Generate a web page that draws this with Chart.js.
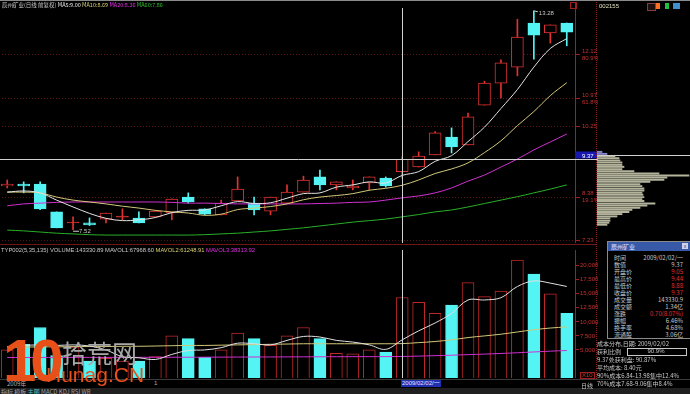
<!DOCTYPE html>
<html><head><meta charset="utf-8">
<script src="https://cdn.jsdelivr.net/npm/chart.js@4.4.1/dist/chart.umd.min.js"></script>
<style>
html,body{margin:0;padding:0;background:#000;width:690px;height:394px;overflow:hidden;position:relative;font-family:"Liberation Sans","Noto Sans CJK SC",sans-serif;}
.box{position:absolute;}
.t{position:absolute;white-space:nowrap;font-size:6px;line-height:7px;color:#c8c8c8;z-index:5;}
.cj{font-family:"Noto Sans CJK SC","Liberation Sans",sans-serif;}
#info .r{position:absolute;left:6px;right:7px;height:7px;font-size:6px;line-height:7px;}
#info .r span:last-child{position:absolute;right:0;}
</style></head><body>
<div class="box" style="left:0;top:0;width:690px;height:1px;background:#8a8a8a;"></div>
<div class="box" id="pwrap" style="left:-1px;top:3px;width:599px;height:240px;"><canvas id="price"></canvas></div>
<div class="box" id="vwrap" style="left:-1px;top:250px;width:599px;height:128px;"><canvas id="vol"></canvas></div>
<div class="box" id="cwrap" style="left:597px;top:3px;width:93px;height:240px;"><canvas id="chip"></canvas></div>

<!-- frame lines -->
<div class="box" style="left:0;top:244px;width:597px;height:1px;background:#701818;"></div>
<div class="box" style="left:596px;top:2px;width:0;height:377px;border-left:1px dotted #902020;"></div>
<div class="box" style="left:0;top:379px;width:690px;height:1px;background:#3a3a3a;"></div>
<div class="box" style="left:570px;top:2px;width:5px;height:5px;border:1px solid #a02020;"></div>

<!-- titles -->
<div class="t cj" style="left:2px;top:2px;font-size:5.5px;">辰州矿业(日线 前复权) <span style="color:#e8e8e8">MA5:9.00</span> <span style="color:#d8d070">MA10:8.69</span> <span style="color:#e030e0">MA20:8.36</span> <span style="color:#30c030">MA60:7.86</span></div>
<div class="t" style="left:1px;top:247px;font-size:5.8px;">TYP002(5,35,135) VOLUME:143330.89 MAVOL1:67968.60 <span style="color:#d8d070">MAVOL2:61248.91</span> <span style="color:#e030e0">MAVOL3:38313.92</span></div>
<div class="t" style="left:599px;top:3px;color:#e0e0c0;">002155</div>
<div class="box" style="left:647px;top:3px;width:7px;height:6px;border:1px solid #804040;background:#201010;"></div>
<div class="box" style="left:656px;top:3px;width:4px;height:6px;background:#ff7020;"></div>
<div class="box" style="left:665px;top:3px;width:4px;height:6px;background:#20c040;"></div>
<div class="box" style="left:673px;top:3px;width:7px;height:6px;background:#4090d0;"></div>

<!-- info popup -->
<div id="info" class="box cj" style="left:607px;top:241px;width:82px;height:96px;border:1px solid #8a8a8a;background:#000;z-index:6;color:#c8c8c8;">
  <div style="position:absolute;left:0;top:0;right:0;height:9px;background:#3858a8;color:#e8e8ff;font-size:6px;line-height:9px;padding-left:3px;">辰州矿业<span style="position:absolute;right:2px;top:1px;width:6px;height:6px;background:#d0d0e8;color:#304080;font-size:5px;line-height:6px;text-align:center;">x</span></div>
  <div class="r" style="top:12px;"><span>时间</span><span>2009/02/02/一</span></div>
  <div class="r" style="top:19px;"><span>数值</span><span>9.37</span></div>
  <div class="r" style="top:26px;"><span>开盘价</span><span style="color:#e03030">9.05</span></div>
  <div class="r" style="top:33px;"><span>最高价</span><span style="color:#e03030">9.44</span></div>
  <div class="r" style="top:40px;"><span>最低价</span><span style="color:#e03030">8.88</span></div>
  <div class="r" style="top:47px;"><span>收盘价</span><span style="color:#e03030">9.37</span></div>
  <div class="r" style="top:54px;"><span>成交量</span><span>143330.9</span></div>
  <div class="r" style="top:61px;"><span>成交额</span><span>1.34亿</span></div>
  <div class="r" style="top:68px;"><span>涨跌</span><span style="color:#e03030">0.70(8.07%)</span></div>
  <div class="r" style="top:75px;"><span>振幅</span><span>6.46%</span></div>
  <div class="r" style="top:82px;"><span>换手率</span><span>4.68%</span></div>
  <div class="r" style="top:89px;"><span>流通股</span><span>3.06亿</span></div>
</div>

<!-- cost distribution text -->
<div class="t cj" style="left:597px;top:340px;">成本分布,日期: 2009/02/02</div>
<div class="t cj" style="left:597px;top:348px;">获利比例</div>
<div class="box" style="left:627px;top:348px;width:58px;height:6px;border:1px solid #c8c8c8;"></div>
<div class="t" style="left:627px;top:348px;width:58px;text-align:center;">90.9%</div>
<div class="t cj" style="left:597px;top:356px;">9.37处获利盘: 90.87%</div>
<div class="t cj" style="left:597px;top:364px;">平均成本: 8.40元</div>
<div class="t cj" style="left:597px;top:372px;">90%成本6.84-13.98集中12.4%</div>
<div class="t cj" style="left:597px;top:380px;">70%成本7.68-9.06集中8.4%</div>
<div class="t" style="left:580px;top:372px;color:#d03030;border:1px solid #a02020;line-height:5px;padding:0 1px;">X10</div>
<div class="t cj" style="left:581px;top:382px;">日线</div>

<!-- date row -->
<div class="t cj" style="left:7px;top:380px;color:#b0b0b0;">2009年</div>
<div class="t" style="left:154px;top:380px;color:#b0b0b0;">1</div>
<div class="t" style="left:401px;top:380px;background:#2030b0;color:#e0e0ff;padding:0 1px;">2009/02/02/一</div>
<div class="box" style="left:0;top:388px;width:690px;height:6px;background:#202020;"></div>
<div class="t cj" style="left:1px;top:388px;color:#a0a0a0;">指标 模板 <span style="color:#40c0c0">主图</span> MACD KDJ RSI WR</div>

<!-- watermark -->
<div class="t" style="left:3px;top:330px;font-size:60px;line-height:62px;font-weight:bold;color:#e8501a;letter-spacing:-6px;font-family:'Liberation Sans';z-index:7;">10</div>
<div class="t cj" style="left:62px;top:338px;font-size:25px;line-height:28px;color:#a8a8a8;z-index:7;">拾荒网</div>
<div class="t" style="left:46px;top:363px;font-size:21px;line-height:24px;color:#e8501a;z-index:7;font-family:'Liberation Sans';">Hunag.CN</div>

<script>
const dates = ['2008/12/19','2008/12/22','2008/12/23','2008/12/24','2008/12/25','2008/12/26','2008/12/29','2008/12/30','2008/12/31','2009/01/05','2009/01/06','2009/01/07','2009/01/08','2009/01/09','2009/01/12','2009/01/13','2009/01/14','2009/01/15','2009/01/16','2009/01/19','2009/01/20','2009/01/21','2009/01/22','2009/01/23','2009/02/02','2009/02/03','2009/02/04','2009/02/05','2009/02/06','2009/02/09','2009/02/10','2009/02/11','2009/02/12','2009/02/13','2009/02/16'];
const open  = [8.67,8.72,8.72,7.99,7.70,7.70,7.80,7.85,7.83,7.86,7.96,8.38,8.07,7.91,8.28,8.22,8.01,8.22,8.51,8.91,8.70,8.62,8.75,8.88,9.05,9.17,9.49,9.96,9.75,10.80,11.38,11.80,12.96,12.70,12.96];
const high  = [8.83,8.78,8.78,7.99,7.86,7.83,7.96,8.07,7.99,8.03,8.33,8.49,8.07,8.30,8.91,8.38,8.38,8.70,8.93,9.09,8.78,8.83,8.91,8.91,9.44,9.57,10.10,10.20,10.59,11.43,11.99,13.06,13.28,12.91,12.96];
const low   = [8.62,8.49,8.05,7.57,7.52,7.63,7.70,7.78,7.70,7.85,7.78,8.22,7.91,7.91,8.28,7.91,7.91,8.22,8.51,8.57,8.57,8.57,8.57,8.64,8.88,9.17,9.49,9.54,9.75,10.80,10.99,11.57,12.01,12.43,12.36];
const close = [8.72,8.67,8.07,7.57,7.72,7.65,7.96,7.88,7.70,8.01,8.33,8.25,7.93,8.22,8.59,8.04,8.38,8.51,8.83,8.70,8.78,8.67,8.91,8.67,9.37,9.46,10.07,9.70,10.49,11.38,11.91,12.59,12.64,12.91,12.72];
const ma5  = [8.51,8.54,8.49,8.30,8.12,7.95,7.82,7.76,7.78,7.84,7.97,8.03,8.04,8.15,8.26,8.21,8.23,8.35,8.47,8.49,8.64,8.70,8.78,8.75,8.95,9.05,9.32,9.47,9.84,10.22,10.71,11.21,11.80,12.29,12.55];
const ma10 = [8.51,8.51,8.49,8.38,8.30,8.25,8.20,8.14,8.09,8.03,7.99,7.96,7.90,7.93,8.05,8.09,8.13,8.20,8.31,8.38,8.42,8.47,8.56,8.61,8.69,8.83,9.00,9.12,9.28,9.55,9.86,10.26,10.63,11.05,11.39];
const ma20 = [8.15,8.20,8.22,8.24,8.25,8.25,8.25,8.25,8.25,8.25,8.24,8.22,8.22,8.21,8.20,8.20,8.20,8.20,8.20,8.21,8.22,8.24,8.25,8.30,8.36,8.41,8.49,8.62,8.80,8.96,9.17,9.38,9.62,9.83,10.04];
const ma60 = [7.51,7.49,7.46,7.43,7.41,7.39,7.38,7.38,7.38,7.38,7.38,7.38,7.39,7.41,7.43,7.46,7.49,7.53,7.57,7.62,7.67,7.72,7.76,7.80,7.86,7.92,7.99,8.04,8.12,8.21,8.30,8.39,8.49,8.59,8.70];
const volume = [5000,6000,9000,4000,5500,3000,3500,3000,3000,3800,7500,7000,3700,5000,8000,7000,5800,7500,9000,7000,4400,4300,5000,4600,14333,13500,11500,13000,17000,14500,15500,21000,18500,15000,11500];
const mavol1 = [5600,5800,5900,5800,5900,5700,5000,3800,3600,3300,4200,4900,5000,5400,6200,6100,5900,6700,7400,7300,6700,6400,5900,5100,6797,8400,9800,11500,13900,13900,14300,16300,17300,16900,16300];
const mavol2 = [5500,5500,5550,5550,5600,5600,5600,5650,5650,5700,5750,5800,5800,5850,5900,5950,6000,6050,6100,6100,6100,6100,6100,6100,6125,6300,6500,6800,7200,7500,7800,8200,8600,8900,9100];
const mavol3 = [3650,3650,3660,3660,3670,3670,3670,3680,3680,3690,3700,3700,3710,3720,3730,3740,3750,3760,3770,3780,3790,3800,3800,3810,3831,3900,3980,4060,4160,4260,4370,4500,4640,4780,4900];
const priceTicks = [12.12,10.97,10.25,8.38,7.23];
const priceTickLabels = [['12.12','80.9%'],['10.97','61.8%'],'10.25',['8.38','19.1%'],'7.23'];
const volTicks = [5000,7500,10000,12500,15000,17500,20000];
const chipPrice  = [9.46,9.40,9.33,9.27,9.20,9.14,9.07,9.01,8.94,8.88,8.81,8.75,8.69,8.62,8.56,8.49,8.43,8.36,8.30,8.23,8.17,8.10,8.04,7.98,7.91,7.85,7.78,7.72,7.65,7.59,7.52,7.46,7.39,7.33,7.27];
const chipAmount = [5,10,18,22,23,25,25,27,25,37,62,92,70,67,53,43,45,47,47,45,46,47,45,47,58,50,43,35,32,25,20,13,13,12,10];
const crossIdx = 24;

const RED = '#e23232', CYAN = '#54f4f4', PMIN = 7.171, PMAX = 13.487;
const up = close.map((c,i)=> c >= open[i]);

const crossPlugin = {
  id:'cross',
  afterDatasetsDraw(chart, args, opts){
    const {ctx, chartArea:a, scales} = chart;
    const x = scales.x, y = scales.y;
    ctx.save();
    ctx.strokeStyle = '#d0d0d0'; ctx.lineWidth = 1;
    if (opts.vert) {
      const px = Math.round(x.getPixelForValue(crossIdx)) + 0.5;
      ctx.beginPath(); ctx.moveTo(px, a.top + (opts.vTop||0)); ctx.lineTo(px, a.bottom); ctx.stroke();
    }
    if (opts.horiz) {
      const py = Math.round(y.getPixelForValue(close[crossIdx])) + 0.5;
      ctx.beginPath(); ctx.moveTo(0, py); ctx.lineTo(chart.width, py); ctx.stroke();
      if (opts.box) {
        ctx.fillStyle = '#1818b0'; ctx.fillRect(a.right, py - 8, 22, 7);
        ctx.fillStyle = '#ffffff'; ctx.font = '6px "Liberation Sans"'; ctx.textBaseline = 'alphabetic';
        ctx.fillText(close[crossIdx].toFixed(2), a.right + 7, py - 2);
      }
    }
    if (opts.marks) {
      ctx.fillStyle = '#c8c8c8'; ctx.font = '6px "Liberation Sans"'; ctx.textBaseline = 'middle';
      const hi = Math.max(...high), hiI = high.indexOf(hi);
      const lo = Math.min(...low), loI = low.indexOf(lo);
      let hx = x.getPixelForValue(hiI), hy = y.getPixelForValue(hi);
      ctx.beginPath(); ctx.moveTo(hx + 0.5, hy); ctx.lineTo(hx + 4, hy + 1); ctx.stroke();
      ctx.fillText(hi.toFixed(2), hx + 5, hy + 2);
      let lx = x.getPixelForValue(loI), ly = y.getPixelForValue(lo);
      ctx.beginPath(); ctx.moveTo(lx, ly + 1.5); ctx.lineTo(lx + 6, ly + 1.5); ctx.stroke();
      ctx.fillText(lo.toFixed(2), lx + 6, ly + 1.5);
    }
    ctx.restore();
  }
};

const lineDs = (data, color) => ({type:'line', data, borderColor:color, borderWidth:1, pointRadius:0, tension:0.35, order:0});
const noPad = (s) => { s.width = 23; s.paddingTop = 0; s.paddingBottom = 0; };

new Chart(document.getElementById('price'), {
  type:'bar',
  data:{ labels:dates, datasets:[
    {data: low.map((l,i)=>[l, high[i]]), backgroundColor: up.map(u=>u?RED:CYAN), barThickness:1, grouped:false, order:3},
    {data: open.map((o,i)=>[o, close[i]]), backgroundColor: up.map((u,i)=> u ? (Math.abs(close[i]-open[i])<0.05 ? RED : '#000') : CYAN),
     borderColor: up.map(u=>u?RED:CYAN), borderWidth:1, borderSkipped:false, barThickness:12, grouped:false, order:2},
    lineDs(ma5,'#e4e4e4'), lineDs(ma10,'#d2c878'), lineDs(ma20,'#d030d0'), lineDs(ma60,'#28b028')
  ]},
  options:{
    responsive:true, maintainAspectRatio:false, animation:false, devicePixelRatio:1,
    layout:{padding:0},
    plugins:{legend:{display:false}, tooltip:{enabled:false}, cross:{vert:true, horiz:true, box:true, marks:true, vTop:5}},
    scales:{
      x:{display:false, offset:true},
      y:{position:'right', min:PMIN, max:PMAX,
         afterFit: noPad,
         afterBuildTicks(s){ s.ticks = priceTicks.map(v=>({value:v})); },
         ticks:{color:'#c83030', font:{size:6, family:'Liberation Sans', lineHeight:1.1}, padding:2, autoSkip:false,
                callback:(v)=> priceTickLabels[priceTicks.indexOf(v)]},
         grid:{color:'#5a1515', drawOnChartArea:true, tickLength:5, tickColor:'#a02020'},
         border:{display:true, color:'#a02020', dash:[1,2]}
      }
    }
  },
  plugins:[crossPlugin]
});

new Chart(document.getElementById('vol'), {
  type:'bar',
  data:{ labels:dates, datasets:[
    {data: volume, backgroundColor: up.map(u=>u?'#000':CYAN), borderColor: up.map(u=>u?'#c02828':CYAN), borderWidth:1, borderSkipped:'start', barThickness:12, order:2},
    lineDs(mavol1,'#e0e0e0'), lineDs(mavol2,'#d2c878'), lineDs(mavol3,'#d030d0')
  ]},
  options:{
    responsive:true, maintainAspectRatio:false, animation:false, devicePixelRatio:1,
    layout:{padding:0},
    plugins:{legend:{display:false}, tooltip:{enabled:false}, cross:{vert:true}},
    scales:{
      x:{display:false, offset:true},
      y:{position:'right', min:0, max:22800,
         afterFit: noPad,
         afterBuildTicks(s){ s.ticks = volTicks.map(v=>({value:v})); },
         ticks:{color:'#c83030', font:{size:6, family:'Liberation Sans'}, padding:1, autoSkip:false},
         grid:{display:true, drawOnChartArea:false, tickLength:4, tickColor:'#a02020'},
         border:{display:true, color:'#a02020'}
      }
    }
  },
  plugins:[crossPlugin]
});

new Chart(document.getElementById('chip'), {
  type:'bar',
  data:{ datasets:[{
    data: chipPrice.map((p,i)=>({x:chipAmount[i], y:p})),
    backgroundColor: chipPrice.map(p => p > close[crossIdx] ? '#8888c8' : '#b4b49c'),
    barThickness:1.3
  }]},
  options:{
    indexAxis:'y', responsive:true, maintainAspectRatio:false, animation:false, devicePixelRatio:1,
    layout:{padding:0},
    plugins:{legend:{display:false}, tooltip:{enabled:false}},
    scales:{
      x:{type:'linear', display:false, min:0, max:93},
      y:{type:'linear', display:false, min:PMIN, max:PMAX}
    }
  },
  plugins:[{id:'chipcross', afterDatasetsDraw(chart){
    const {ctx, scales:{y}} = chart; const py = Math.round(y.getPixelForValue(close[crossIdx])) + 0.5;
    ctx.save(); ctx.strokeStyle='#d0d0d0'; ctx.beginPath(); ctx.moveTo(0,py); ctx.lineTo(chart.width,py); ctx.stroke(); ctx.restore();
  }}]
});
</script>
</body></html>
